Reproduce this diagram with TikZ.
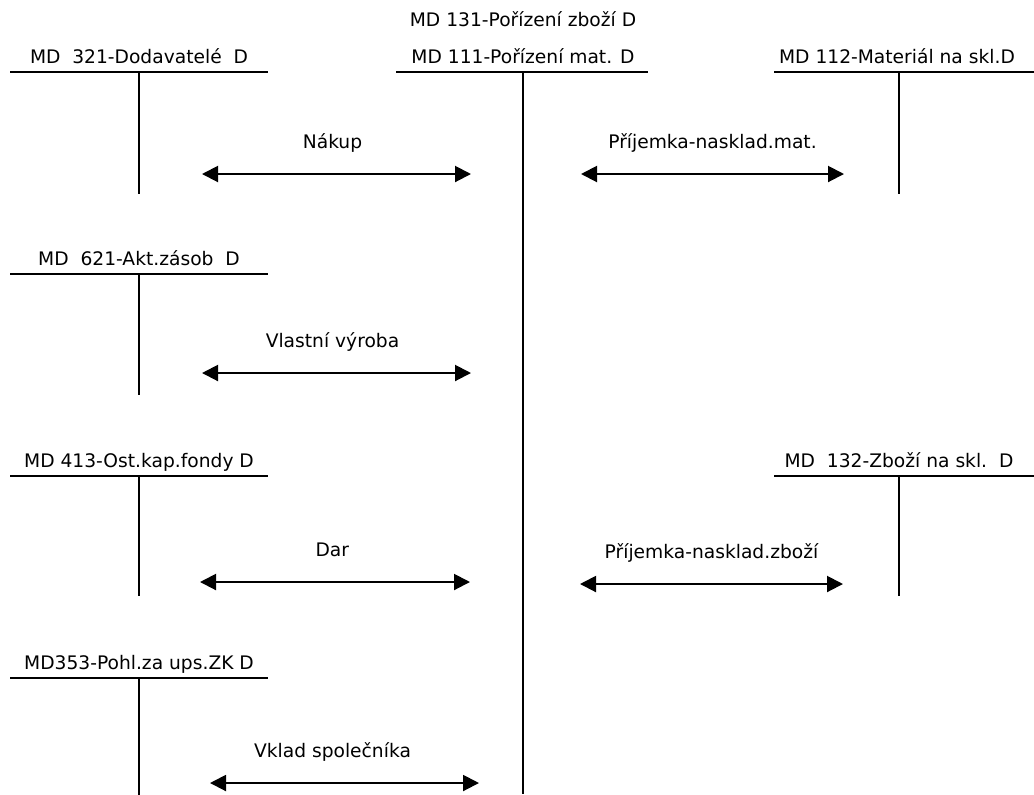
\documentclass[tikz,border=0pt]{standalone}
\usepackage{fontspec}
\setmainfont{DejaVu Sans}
\usetikzlibrary{arrows.meta, positioning, calc}

\begin{document}
\begin{tikzpicture}[x=0.75pt, y=-0.75pt,
    head/.style={anchor=base, inner sep=0pt, font=\fontsize{14}{16}\selectfont},
    lab/.style={anchor=base, inner sep=0pt, yshift=19.5pt, font=\fontsize{14}{16}\selectfont},
    tline/.style={line width=1.5pt},
    flow/.style={line width=1.5pt, {Triangle[length=12pt,width=12pt]}-{Triangle[length=12pt,width=12pt]}}]
    \useasboundingbox (0,0) rectangle (1034,794);

    % tops of the T-accounts
    \coordinate (t321) at (139, 72);
    \coordinate (t111) at (523, 72);
    \coordinate (t112) at (899, 72);
    \coordinate (t621) at (139, 274);
    \coordinate (t413) at (139, 476);
    \coordinate (t132) at (899, 476);
    \coordinate (t353) at (139, 678);

    \node[head] (h131) at (523, 26) {MD 131-Pořízení zboží D};
    \node[head] (h321) at ($(t321) + (0, -9)$) {MD\ \ 321-Dodavatelé\ \ D};
    \node[head] (h111) at ($(t111) + (0, -9)$) {MD 111-Pořízení mat. D};
    \node[head] (h112) at ($(t112) + (-2, -9)$) {MD 112-Materiál na skl.D};
    \node[head] (h621) at ($(t621) + (0, -9)$) {MD\ \ 621-Akt.zásob\ \ D};
    \node[head] (h413) at ($(t413) + (0, -9)$) {MD 413-Ost.kap.fondy D};
    \node[head] (h132) at ($(t132) + (0, -9)$) {MD\ \ 132-Zboží na skl.\ \ D};
    \node[head] (h353) at ($(t353) + (0, -9)$) {MD353-Pohl.za ups.ZK D};

    \draw[tline]
        (t321) ++(-129, 0) -- ++(258, 0)  (t321) -- ++(0, 122)
        (t111) ++(-127, 0) -- ++(252, 0)  (t111) -- (523, 794)
        (t112) ++(-125, 0) -- ++(260, 0)  (t112) -- ++(0, 122)
        (t621) ++(-129, 0) -- ++(258, 0)  (t621) -- ++(0, 121)
        (t413) ++(-129, 0) -- ++(258, 0)  (t413) -- ++(0, 120)
        (t132) ++(-125, 0) -- ++(260, 0)  (t132) -- ++(0, 120)
        (t353) ++(-129, 0) -- ++(258, 0)  (t353) -- ++(0, 120)
        ;

    % ends of the arrows
    \coordinate (a1l) at (202, 174);  \coordinate (a1r) at (471, 174);
    \coordinate (b1l) at (581, 174);  \coordinate (b1r) at (844, 174);
    \coordinate (a2l) at (202, 373);  \coordinate (a2r) at (471, 373);
    \coordinate (a3l) at (200, 582);  \coordinate (a3r) at (470, 582);
    \coordinate (b3l) at (580, 584);  \coordinate (b3r) at (843, 584);
    \coordinate (a4l) at (210, 783);  \coordinate (a4r) at (479, 783);

    \draw[flow] (a1l) -- node[lab, xshift=-3pt] (nakup) {Nákup} (a1r);
    \draw[flow] (b1l) -- node[lab] (prijmat) {Příjemka-nasklad.mat.} (b1r);
    \draw[flow] (a2l) -- node[lab, xshift=-3pt] (vyroba) {Vlastní výroba} (a2r);
    \draw[flow] (a3l) -- node[lab, xshift=-2pt] (dar) {Dar} (a3r);
    \draw[flow] (b3l) -- node[lab] (prijzb) {Příjemka-nasklad.zboží} (b3r);
    \draw[flow] (a4l) -- node[lab, xshift=-9pt] (vklad) {Vklad společníka} (a4r);
\end{tikzpicture}
\end{document}
